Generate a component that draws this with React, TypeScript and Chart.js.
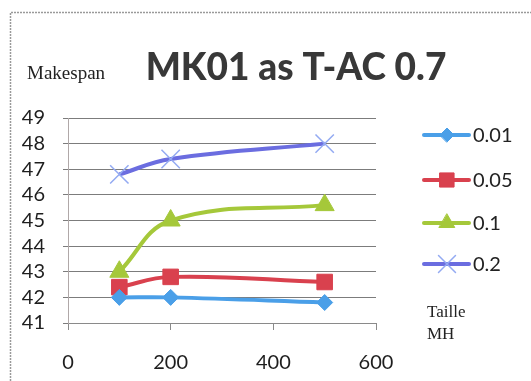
import { useEffect, useRef } from 'react';
import { Chart, registerables } from 'chart.js';
import { drawPoint } from 'chart.js/helpers';

Chart.register(...registerables);

// Heuristic size (x axis) and makespan values per alpha setting
const tailles = [100, 200, 500];
const seriesLabels = ['0.01', '0.05', '0.1', '0.2'];
const makespan001 = [42, 42, 41.8];
const makespan005 = [42.4, 42.8, 42.6];
const makespan01 = [43, 45, 45.6];
const makespan02 = [46.8, 47.4, 48];
const xTickValues = [0, 200, 400, 600];
const yTickValues = [41, 42, 43, 44, 45, 46, 47, 48, 49];

const titleText = 'MK01 as T-AC 0.7';
const yAxisText = 'Makespan';
const xAxisLines = ['Taille', 'MH'];

const FONT = 'Lato, "Open Sans", sans-serif';
const SERIF = '"Liberation Serif", "DejaVu Serif", serif';

type Style = {
  color: string;
  pointColor: string;
  pointStyle: string;
  radius: number;
  pointBorderWidth: number;
  legendRadius: number;
};

const styles: Style[] = [
  { color: '#4a9fe8', pointColor: '#4a9fe8', pointStyle: 'rectRot', radius: 8, pointBorderWidth: 1, legendRadius: 7 },
  { color: '#d9414e', pointColor: '#d9414e', pointStyle: 'rect', radius: 11, pointBorderWidth: 1, legendRadius: 10 },
  { color: '#a5c83a', pointColor: '#a5c83a', pointStyle: 'triangle', radius: 11, pointBorderWidth: 1, legendRadius: 9 },
  { color: '#6b6de0', pointColor: '#93aaf2', pointStyle: 'crossRot', radius: 13, pointBorderWidth: 1.5, legendRadius: 12 },
];

const seriesValues = [makespan001, makespan005, makespan01, makespan02];

const decorPlugin = {
  id: 'decor',
  afterDraw(chart: any) {
    const ctx = chart.ctx as CanvasRenderingContext2D;
    ctx.save();

    // outer frame
    ctx.strokeStyle = '#9a9a9a';
    ctx.lineWidth = 1.5;
    ctx.setLineDash([2, 1]);
    ctx.beginPath();
    ctx.moveTo(10.5, 381);
    ctx.lineTo(10.5, 12.5);
    ctx.lineTo(531, 12.5);
    ctx.stroke();
    ctx.setLineDash([]);

    // title
    ctx.fillStyle = '#383838';
    ctx.font = `900 37px ${FONT}`;
    ctx.textAlign = 'center';
    ctx.textBaseline = 'alphabetic';
    ctx.fillText(titleText, 296, 80);

    // axis captions
    ctx.fillStyle = '#222';
    ctx.font = `19px ${SERIF}`;
    ctx.textAlign = 'left';
    ctx.fillText(yAxisText, 27, 79);
    ctx.font = `17px ${SERIF}`;
    ctx.fillText(xAxisLines[0], 427, 317);
    ctx.fillText(xAxisLines[1], 427, 339);

    // legend
    const legendY = [135, 180, 223, 264];
    seriesLabels.forEach((label, i) => {
      const s = styles[i];
      const y = legendY[i];
      ctx.strokeStyle = s.color;
      ctx.lineWidth = 4;
      ctx.lineCap = 'round';
      ctx.beginPath();
      ctx.moveTo(424, y);
      ctx.lineTo(469, y);
      ctx.stroke();
      ctx.fillStyle = s.pointColor;
      ctx.strokeStyle = s.pointColor;
      ctx.lineWidth = s.pointBorderWidth;
      drawPoint(ctx, { pointStyle: s.pointStyle as any, radius: s.legendRadius, rotation: 0, borderWidth: s.pointBorderWidth }, 447, y);
      ctx.fillStyle = '#222';
      ctx.font = `20px ${FONT}`;
      ctx.textAlign = 'left';
      ctx.textBaseline = 'middle';
      ctx.fillText(label, 473, y + 1);
    });

    ctx.restore();
  },
};

export default function App() {
  const canvasRef = useRef<HTMLCanvasElement | null>(null);

  useEffect(() => {
    document.body.style.margin = '0';
    const canvas = canvasRef.current;
    if (!canvas) return;

    const chart = new Chart(canvas, {
      type: 'scatter',
      data: {
        datasets: seriesLabels.map((label, i) => ({
          label,
          data: tailles.map((x, j) => ({ x, y: seriesValues[i][j] })),
          showLine: true,
          tension: 0.4,
          borderColor: styles[i].color,
          borderWidth: 4,
          pointStyle: styles[i].pointStyle as any,
          pointRadius: styles[i].radius,
          pointHoverRadius: styles[i].radius,
          pointBackgroundColor: styles[i].pointColor,
          pointBorderColor: styles[i].pointColor,
          pointBorderWidth: styles[i].pointBorderWidth,
          clip: false as any,
        })),
      },
      options: {
        responsive: false,
        animation: false,
        layout: { padding: { left: 0, top: 118, right: 155, bottom: 0 } },
        plugins: {
          legend: { display: false },
          title: { display: false },
          tooltip: { enabled: false },
        },
        scales: {
          x: {
            type: 'linear',
            min: 0,
            max: 600,
            afterFit(scale: any) {
              scale.height = 58;
            },
            afterBuildTicks(scale: any) {
              scale.ticks = xTickValues.map((v) => ({ value: v }));
            },
            ticks: {
              color: '#1e1e1e',
              font: { family: FONT, size: 20 },
              padding: 21,
              maxRotation: 0,
              autoSkip: false,
            },
            grid: {
              drawOnChartArea: false,
              drawTicks: true,
              tickLength: 7,
              color: '#8a8a8a',
            },
            border: { display: true, color: '#8a8a8a' },
          },
          y: {
            type: 'linear',
            min: 41,
            max: 49,
            afterFit(scale: any) {
              scale.width = 68;
            },
            afterBuildTicks(scale: any) {
              scale.ticks = yTickValues.map((v) => ({ value: v }));
            },
            ticks: {
              color: '#1e1e1e',
              font: { family: FONT, size: 20 },
              padding: 18,
              autoSkip: false,
            },
            grid: {
              color: '#7c7c7c',
              tickLength: 5,
            },
            border: { display: true, color: '#b0a8a8' },
          },
        },
      },
      plugins: [decorPlugin],
    });

    return () => chart.destroy();
  }, []);

  return (
    <div style={{ width: 531, height: 381, background: '#ffffff' }}>
      <canvas ref={canvasRef} width={531} height={381} />
    </div>
  );
}
